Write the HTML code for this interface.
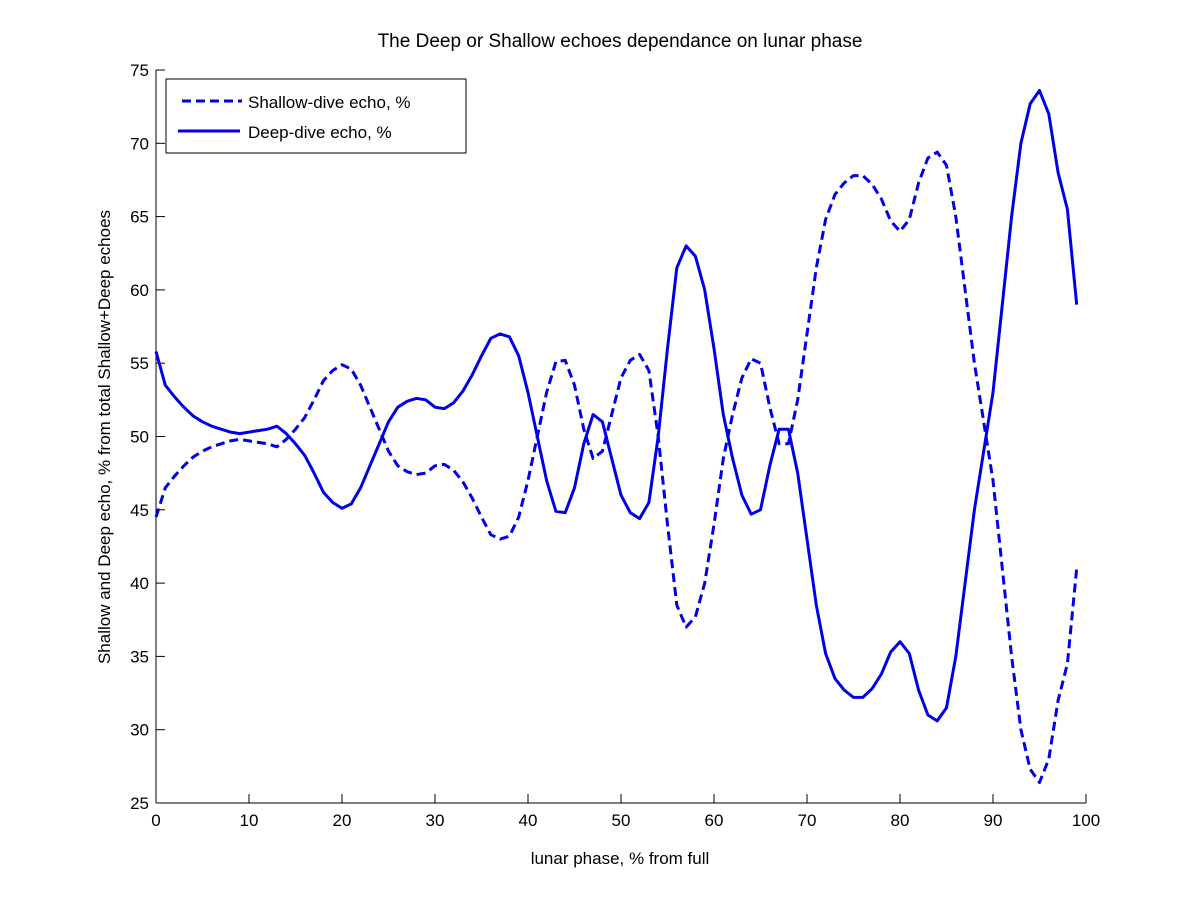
<!DOCTYPE html>
<html><head><meta charset="utf-8"><style>
body{margin:0;background:#fff;}
svg text{font-family:"Liberation Sans",sans-serif;fill:#000;}
</style></head><body>
<svg id="chart" width="1200" height="901">
<rect width="1200" height="901" fill="#fff"/>
<text x="620" y="47" font-size="19" text-anchor="middle">The Deep or Shallow echoes dependance on lunar phase</text>
<g id="axes"></g>
<g id="series"></g>
<text x="620" y="864" font-size="17" text-anchor="middle">lunar phase, % from full</text>
<text transform="translate(110,437) rotate(-90)" font-size="17" text-anchor="middle">Shallow and Deep echo, % from total Shallow+Deep echoes</text>
<g>
<rect x="166" y="79" width="300" height="74" fill="#fff" stroke="#000" stroke-width="1"/>
<line x1="182" y1="101" x2="242" y2="101" stroke="#0000e6" stroke-width="3" stroke-dasharray="9,5"/>
<text x="248" y="108" font-size="17">Shallow-dive echo, %</text>
<line x1="178" y1="131" x2="240" y2="131" stroke="#0000e6" stroke-width="3"/>
<text x="248" y="138" font-size="17">Deep-dive echo, %</text>
</g>
</svg>
<script>
const xTicks=[0,10,20,30,40,50,60,70,80,90,100];
const yTicks=[25,30,35,40,45,50,55,60,65,70,75];
const phase=[0,1,2,3,4,5,6,7,8,9,10,11,12,13,14,15,16,17,18,19,20,21,22,23,24,25,26,27,28,29,30,31,32,33,34,35,36,37,38,39,40,41,42,43,44,45,46,47,48,49,50,51,52,53,54,55,56,57,58,59,60,61,62,63,64,65,66,67,68,69,70,71,72,73,74,75,76,77,78,79,80,81,82,83,84,85,86,87,88,89,90,91,92,93,94,95,96,97,98,99];
const shallow=[44.5,46.5,47.3,48,48.6,49,49.3,49.5,49.7,49.8,49.7,49.6,49.5,49.3,49.8,50.5,51.3,52.5,53.8,54.5,54.9,54.6,53.5,52,50.5,49,48,47.6,47.4,47.5,48,48.1,47.7,46.9,45.8,44.5,43.3,43,43.2,44.5,47,50,53,55.1,55.2,53.5,50.5,48.5,49,51.5,54,55.2,55.6,54.5,50,44,38.5,37,37.7,40,44,48.5,51.5,54,55.3,55,52,49.5,49.5,52.5,57,61.5,64.8,66.5,67.3,67.8,67.8,67.2,66.2,64.7,64,64.8,67.3,69,69.4,68.5,65,60,55,51,47,41,35,30,27.3,26.4,28,32,34.5,41];
const deep=[55.8,53.5,52.7,52,51.4,51,50.7,50.5,50.3,50.2,50.3,50.4,50.5,50.7,50.2,49.5,48.7,47.5,46.2,45.5,45.1,45.4,46.5,48,49.5,51,52,52.4,52.6,52.5,52,51.9,52.3,53.1,54.2,55.5,56.7,57,56.8,55.5,53,50,47,44.9,44.8,46.5,49.5,51.5,51,48.5,46,44.8,44.4,45.5,50,56,61.5,63,62.3,60,56,51.5,48.5,46,44.7,45,48,50.5,50.5,47.5,43,38.5,35.2,33.5,32.7,32.2,32.2,32.8,33.8,35.3,36,35.2,32.7,31,30.6,31.5,35,40,45,49,53,59,65,70,72.7,73.6,72,68,65.5,59];
const X0=156,X1=1086,Y0=803,Y1=70;
const sx=v=>X0+(v-0)/100*(X1-X0);
const sy=v=>Y0-(v-25)/50*(Y0-Y1);
const NS="http://www.w3.org/2000/svg";
const axes=document.getElementById('axes'),series=document.getElementById('series');
function mk(tag,attrs,parent){const e=document.createElementNS(NS,tag);for(const k in attrs)e.setAttribute(k,attrs[k]);parent.appendChild(e);return e;}
let l=mk('line',{x1:X0,y1:Y0,x2:X1,y2:Y0,stroke:'#000'},axes);


l=mk('line',{x1:X0,y1:Y0,x2:X0,y2:Y1,stroke:'#000'},axes);


xTicks.forEach(t=>{
 const x=sx(t);
 const tk=mk('line',{x1:x,y1:Y0,x2:x,y2:Y0-9,stroke:'#000'},axes);
 
 
 const tx=mk('text',{x:x,y:Y0+23,'font-size':17,'text-anchor':'middle'},axes);
 tx.textContent=t;
 
 
});
yTicks.forEach(t=>{
 const y=sy(t);
 const tk=mk('line',{x1:X0,y1:y,x2:X0+9,y2:y,stroke:'#000'},axes);
 
 
 const tx=mk('text',{x:X0-7,y:y+6,'font-size':17,'text-anchor':'end'},axes);
 tx.textContent=t;
 
 
});
function pts(arr){return arr.map((v,i)=>sx(phase[i]).toFixed(1)+','+sy(v).toFixed(1)).join(' ');}
const p1=mk('polyline',{points:pts(shallow),fill:'none',stroke:'#0000e6','stroke-width':3,'stroke-dasharray':'9,5','stroke-linejoin':'round'},series);


const p2=mk('polyline',{points:pts(deep),fill:'none',stroke:'#0000e6','stroke-width':3,'stroke-linejoin':'round'},series);


</script>
</body></html>
